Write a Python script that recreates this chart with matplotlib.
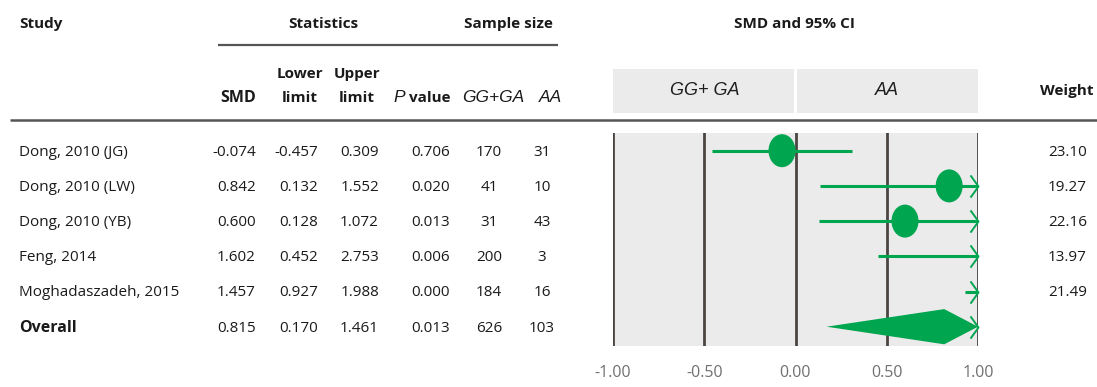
import matplotlib
matplotlib.use('Agg')
import matplotlib.pyplot as plt
import matplotlib.patches as mpatches
from matplotlib.path import Path

W, H = 1097, 387
DPI = 100
FONT = 'Open Sans'
ARIAL = 'Liberation Sans'

TEXT = '#1a1a1a'
GREEN = '#00a550'
GRID = '#4b4542'
PANEL = '#ebebeb'
RULE = '#555555'
TICK = '#707070'

# ─── data ────────────────────────────────────────────────────────────────────
studies = ['Dong, 2010 (JG)', 'Dong, 2010 (LW)', 'Dong, 2010 (YB)',
           'Feng, 2014', 'Moghadaszadeh, 2015']
smd = [-0.074, 0.842, 0.600, 1.602, 1.457]
lower = [-0.457, 0.132, 0.128, 0.452, 0.927]
upper = [0.309, 1.552, 1.072, 2.753, 1.988]
p_values = [0.706, 0.020, 0.013, 0.006, 0.000]
n_gg_ga = [170, 41, 31, 200, 184]
n_aa = [31, 10, 43, 3, 16]
weights = [23.10, 19.27, 22.16, 13.97, 21.49]

overall_label = 'Overall'
overall_smd = 0.815
overall_lower = 0.170
overall_upper = 1.461
overall_p = 0.013
overall_n_gg_ga = 626
overall_n_aa = 103

x_ticks = [-1.0, -0.5, 0.0, 0.5, 1.0]
x_min, x_max = -1.0, 1.0

# ─── layout (pixels) ─────────────────────────────────────────────────────────
PLOT_L, PLOT_R = 613, 978
PLOT_T, PLOT_B = 133, 346
ROW0, ROW_STEP = 150.7, 35.2

fig = plt.figure(figsize=(W / DPI, H / DPI), dpi=DPI)
fig.patch.set_facecolor('white')

bg = fig.add_axes([0, 0, 1, 1])
bg.set_xlim(0, W)
bg.set_ylim(H, 0)
bg.set_axis_off()


def row_y(i):
    return ROW0 + ROW_STEP * i


def txt(x, y, s, ha='left', va='baseline', size=11, weight='normal',
        family=FONT, style='normal', color=TEXT):
    bg.text(x, y, s, ha=ha, va=va, fontsize=size, fontweight=weight,
            family=family, style=style, color=color)


# header row 1
txt(19, 28, 'Study', weight='bold')
txt(323, 28, 'Statistics', ha='center', weight='bold')
txt(508, 28, 'Sample size', ha='center', weight='bold')
txt(794, 28, 'SMD and 95% CI', ha='center', weight='bold')
bg.plot([218, 558], [44.5, 44.5], color=RULE, lw=1.6, solid_capstyle='butt')

# header row 2
txt(300, 78, 'Lower', ha='center', weight='bold')
txt(357, 78, 'Upper', ha='center', weight='bold')
txt(238, 102, 'SMD', ha='center', weight='bold', size=11.5)
txt(300, 102, 'limit', ha='center', weight='bold')
txt(357, 102, 'limit', ha='center', weight='bold')
txt(405, 102, 'P', ha='right', family=ARIAL, style='italic', size=12.5)
txt(409, 102, 'value', weight='bold')
txt(493, 102, 'GG+GA', ha='center', family=ARIAL, style='italic', size=12.5)
txt(550, 102, 'AA', ha='center', family=ARIAL, style='italic', size=12.5)
txt(1093, 95, 'Weight', ha='right', weight='bold')
bg.plot([10, W], [119.5, 119.5], color=RULE, lw=1.8, solid_capstyle='butt')

# table body
col_smd, col_lo, col_hi, col_p = 256, 318, 379, 450
col_n1, col_n2, col_w = 489, 542, 1087
for i, name in enumerate(studies):
    y = row_y(i) + 1.5
    txt(19, y, name, va='center')
    txt(col_smd, y, f'{smd[i]:.3f}', ha='right', va='center')
    txt(col_lo, y, f'{lower[i]:.3f}', ha='right', va='center')
    txt(col_hi, y, f'{upper[i]:.3f}', ha='right', va='center')
    txt(col_p, y, f'{p_values[i]:.3f}', ha='right', va='center')
    txt(col_n1, y, f'{n_gg_ga[i]}', ha='center', va='center')
    txt(col_n2, y, f'{n_aa[i]}', ha='center', va='center')
    txt(col_w, y, f'{weights[i]:.2f}', ha='right', va='center')

k = len(studies)
y = row_y(k) + 1.5
txt(19, y, overall_label, va='center', weight='bold', size=11.5)
txt(col_smd, y, f'{overall_smd:.3f}', ha='right', va='center')
txt(col_lo, y, f'{overall_lower:.3f}', ha='right', va='center')
txt(col_hi, y, f'{overall_upper:.3f}', ha='right', va='center')
txt(col_p, y, f'{overall_p:.3f}', ha='right', va='center')
txt(col_n1, y, f'{overall_n_gg_ga}', ha='center', va='center')
txt(col_n2, y, f'{overall_n_aa}', ha='center', va='center')

# ─── group header boxes above the forest panel ──────────────────────────────
hdr = fig.add_axes([PLOT_L / W, 1 - 113 / H, (PLOT_R - PLOT_L) / W, 44 / H])
hdr.set_xlim(x_min, x_max)
hdr.set_ylim(0, 1)
hdr.set_axis_off()
gap = 0.009
hdr.add_patch(mpatches.Rectangle((x_min, 0), -x_min - gap, 1,
                                 facecolor=PANEL, linewidth=0))
hdr.add_patch(mpatches.Rectangle((gap, 0), x_max - gap, 1,
                                 facecolor=PANEL, linewidth=0))
hdr.text(x_min / 2, 0.52, 'GG+ GA', ha='center', va='center', fontsize=13,
         family=ARIAL, style='italic', color='#1e1e1e')
hdr.text(x_max / 2, 0.52, 'AA', ha='center', va='center', fontsize=13,
         family=ARIAL, style='italic', color='#1e1e1e')

# ─── forest panel ────────────────────────────────────────────────────────────
ax = fig.add_axes([PLOT_L / W, 1 - PLOT_B / H,
                   (PLOT_R - PLOT_L) / W, (PLOT_B - PLOT_T) / H])
ax.set_facecolor(PANEL)
ax.set_xlim(x_min, x_max)
top = -(ROW0 - PLOT_T) / ROW_STEP
bottom = (PLOT_B - ROW0) / ROW_STEP
ax.set_ylim(bottom, top)
for s in ax.spines.values():
    s.set_visible(False)
ax.set_yticks([])
ax.set_xticks(x_ticks, [f'{t:.2f}' for t in x_ticks])
ax.tick_params(axis='x', length=0, pad=14, labelsize=11.5, labelcolor=TICK)
for lab in ax.get_xticklabels():
    lab.set_family(FONT)

for t in x_ticks:
    ax.axvline(t, color=GRID, lw=2.0, zorder=1)

# open chevron marker drawn where an interval runs past the right edge
chevron = Path([(-0.72, 1.0), (0.0, 0.0), (-0.72, -1.0)],
               [Path.MOVETO, Path.LINETO, Path.LINETO])

px_per_unit = (PLOT_R - PLOT_L) / (x_max - x_min)
dot_w = 27 / px_per_unit
dot_h = 33 / ROW_STEP

for i in range(k):
    lo = max(lower[i], x_min)
    hi = min(upper[i], x_max)
    ax.plot([lo, hi], [i, i], color=GREEN, lw=2.2, zorder=3,
            solid_capstyle='butt')
    if x_min <= smd[i] <= x_max:
        ax.add_patch(mpatches.Ellipse((smd[i], i), dot_w, dot_h,
                                      facecolor=GREEN, edgecolor='none',
                                      zorder=4))
    if upper[i] > x_max:
        ax.plot([x_max], [i], marker=chevron, markersize=16,
                markerfacecolor='none', markeredgecolor=GREEN,
                markeredgewidth=1.4, zorder=5, clip_on=False)

# summary diamond
d_hi = min(overall_upper, x_max)
ax.add_patch(mpatches.Polygon([(overall_lower, k), (overall_smd, k - 0.5),
                               (d_hi, k), (overall_smd, k + 0.5)],
                              closed=True, facecolor=GREEN, edgecolor='none',
                              zorder=4))
if overall_upper > x_max:
    ax.plot([x_max], [k], marker=chevron, markersize=16,
            markerfacecolor='none', markeredgecolor=GREEN,
            markeredgewidth=1.4, zorder=5, clip_on=False)

fig.savefig('out.png', dpi=DPI)
